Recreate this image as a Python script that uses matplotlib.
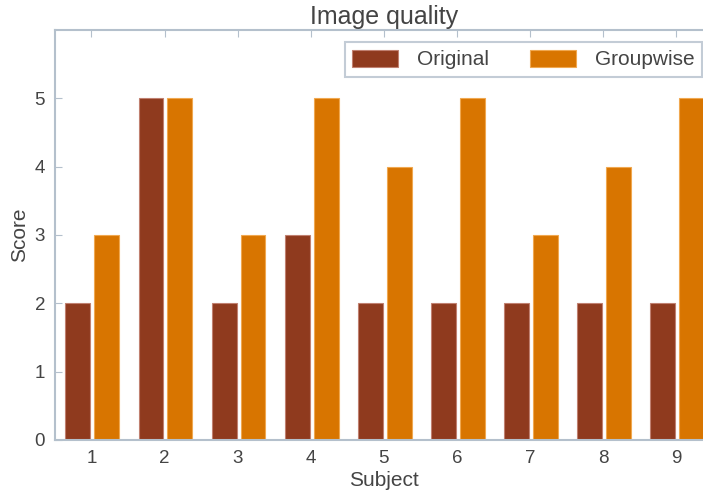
import matplotlib.pyplot as plt
import numpy as np

subjects = [1, 2, 3, 4, 5, 6, 7, 8, 9]
original = [2, 5, 2, 3, 2, 2, 2, 2, 2]
groupwise = [3, 5, 3, 5, 4, 5, 3, 4, 5]

plt.rcParams['font.family'] = ['Liberation Sans', 'DejaVu Sans']

txt = '#444444'
grey = '#b4c0cc'

fig = plt.figure(figsize=(7.03, 4.91), dpi=100)
ax = fig.add_axes([0.078, 0.104, 0.936, 0.835])

x = np.array(subjects)
w = 0.34
ax.bar(x - 0.185, original, w, color='#8f3a1e', edgecolor='#c08070', linewidth=0.8, label='Original')
ax.bar(x + 0.21, groupwise, w, color='#d87500', edgecolor='#f0a850', linewidth=0.8, label='Groupwise')

ax.set_xlim(0.5, 9.5)
ax.set_ylim(0, 6)
ax.set_xticks(subjects)
ax.set_yticks([0, 1, 2, 3, 4, 5])
ax.tick_params(axis='both', direction='in', color=grey, labelcolor=txt, labelsize=13.5, length=5)
ax.tick_params(axis='x', top=True, bottom=False, pad=7)
ax.tick_params(axis='y', pad=7)
for s in ax.spines.values():
    s.set_color(grey)
    s.set_linewidth(1.5)

ax.set_title('Image quality', fontsize=18, color=txt, pad=4)
ax.set_xlabel('Subject', fontsize=15, color=txt, labelpad=3)
ax.set_ylabel('Score', fontsize=15, color=txt, labelpad=4)

leg = ax.legend(loc='upper right', bbox_to_anchor=(0.993, 0.985), ncol=2, fontsize=15, fancybox=False,
                handlelength=2.2, handleheight=0.9, handletextpad=0.9, columnspacing=2.0,
                borderpad=0.35, borderaxespad=0.3, labelcolor=txt)
leg.get_frame().set_edgecolor(grey)
leg.get_frame().set_linewidth(1.5)

fig.savefig('out.png', dpi=100)
